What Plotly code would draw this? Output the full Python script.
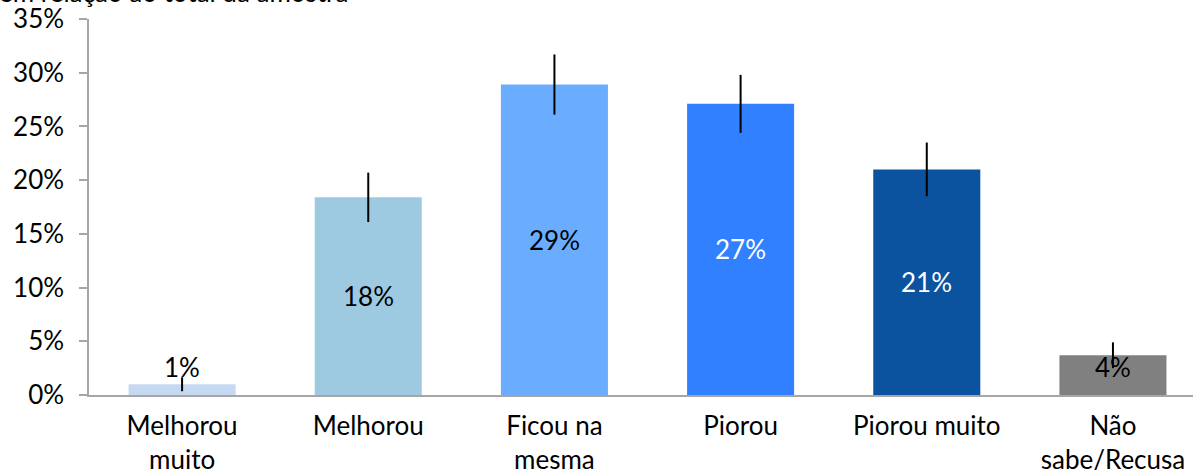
import plotly.graph_objects as go

categories = ["Melhorou<br>muito", "Melhorou", "Ficou na<br>mesma", "Piorou", "Piorou muito", "Não<br>sabe/Recusa"]
values = [1.0, 18.4, 28.9, 27.1, 21.0, 3.7]
errors = [0.65, 2.3, 2.8, 2.7, 2.5, 1.2]
labels = ["1%", "18%", "29%", "27%", "21%", "4%"]
bar_colors = ["#C5D9F1", "#9ECAE1", "#6AADFF", "#3080FF", "#0B539F", "#808080"]
label_colors = ["black", "black", "black", "white", "white", "black"]
y_ticks = [0, 5, 10, 15, 20, 25, 30, 35]
title_text = "em relação ao total da amostra"

FONT = "Lato, 'Open Sans', sans-serif"
FS = 26

fig = go.Figure()
fig.add_trace(go.Bar(
    x=list(range(len(categories))),
    y=values,
    marker=dict(color=bar_colors, line=dict(width=0)),
    width=0.575,
    error_y=dict(type="data", array=errors, visible=True, color="black", thickness=2, width=0),
    hoverinfo="skip",
))

for i, (v, t, c) in enumerate(zip(values, labels, label_colors)):
    fig.add_annotation(
        x=i, y=max(v / 2, 2.6), text=t, showarrow=False,
        font=dict(family=FONT, size=FS, color=c),
        xanchor="center", yanchor="middle",
    )

fig.add_annotation(
    xref="paper", yref="paper", x=-92 / 1104, y=1, yshift=9,
    text=title_text, showarrow=False, xanchor="left", yanchor="bottom",
    font=dict(family=FONT, size=FS, color="black"),
)

fig.update_layout(
    width=1193, height=470,
    margin=dict(l=89, r=0, t=19, b=75),
    paper_bgcolor="white", plot_bgcolor="white",
    showlegend=False,
    font=dict(family=FONT, size=FS, color="black"),
)
fig.update_xaxes(
    range=[-0.5, 5.43],
    tickmode="array", tickvals=list(range(len(categories))), ticktext=categories,
    showline=True, linecolor="#A6A6A6", linewidth=2,
    ticks="", showgrid=False, zeroline=False,
    tickfont=dict(family=FONT, size=FS, color="black"),
    ticklabelstandoff=7, automargin=False,
)
fig.update_yaxes(
    range=[0, 35],
    tickmode="array", tickvals=y_ticks, ticktext=[f"{t}%" for t in y_ticks],
    showline=True, linecolor="#A6A6A6", linewidth=1.5,
    ticks="outside", ticklen=8, tickcolor="#A6A6A6", tickwidth=1.5,
    showgrid=False, zeroline=False,
    tickfont=dict(family=FONT, size=FS, color="black"),
    ticklabelstandoff=10, automargin=False,
)

fig.write_html(
    "out.html",
    config={"displayModeBar": False},
    post_script="document.body.style.margin='0';document.body.style.overflow='hidden';",
)
